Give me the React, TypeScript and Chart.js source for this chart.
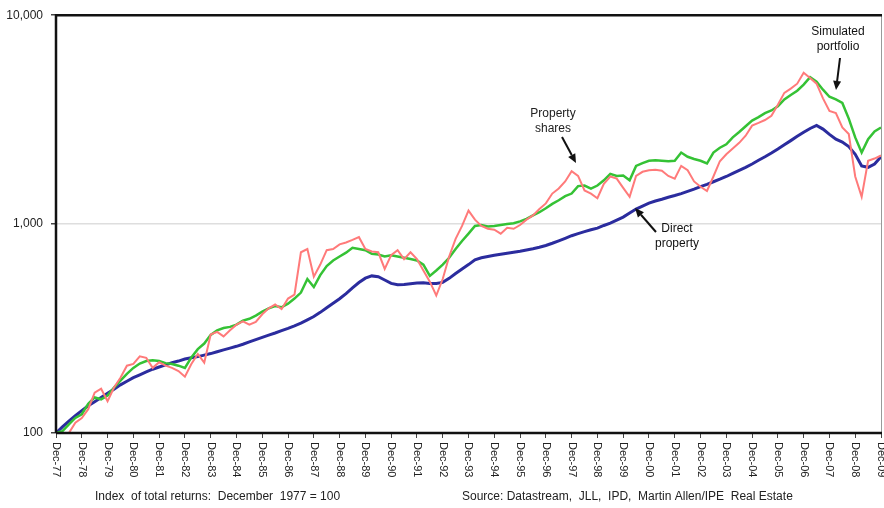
import { useEffect, useRef } from 'react';
import { Chart, registerables } from 'chart.js';

Chart.register(...registerables);

// Year tick labels (one every 4 quarters)
const yearTicks = [
  'Dec-77', 'Dec-78', 'Dec-79', 'Dec-80', 'Dec-81', 'Dec-82', 'Dec-83', 'Dec-84',
  'Dec-85', 'Dec-86', 'Dec-87', 'Dec-88', 'Dec-89', 'Dec-90', 'Dec-91', 'Dec-92',
  'Dec-93', 'Dec-94', 'Dec-95', 'Dec-96', 'Dec-97', 'Dec-98', 'Dec-99', 'Dec-00',
  'Dec-01', 'Dec-02', 'Dec-03', 'Dec-04', 'Dec-05', 'Dec-06', 'Dec-07', 'Dec-08', 'Dec-09',
];
const quarterMonths = ['Mar', 'Jun', 'Sep', 'Dec'];

// Quarterly categories Dec-77 .. Dec-09
const categories: string[] = [yearTicks[0]];
for (let i = 1; i < yearTicks.length; i++) {
  const yy = yearTicks[i].slice(4);
  quarterMonths.forEach((m) => categories.push(`${m}-${yy}`));
}

const yTicks = [100, 1000, 10000];

// Index of total returns, December 1977 = 100 (quarterly)
const directProperty = [
  100,
  107, 114, 121, 128,
  135, 141, 148, 155,
  162, 170, 177, 184,
  190, 196, 202, 207,
  212, 217, 221, 226,
  229, 232, 236, 240,
  245, 250, 255, 260,
  266, 273, 280, 287,
  294, 301, 309, 317,
  326, 336, 348, 361,
  378, 398, 418, 439,
  465, 495, 525, 551,
  565, 560, 540, 520,
  512, 514, 518, 522,
  524, 520, 520, 526,
  550, 580, 610, 640,
  675, 690, 700, 710,
  718, 726, 734, 742,
  752, 762, 775, 790,
  810, 832, 855, 880,
  900, 920, 940, 957,
  985, 1010, 1045, 1080,
  1130, 1180, 1220, 1260,
  1290, 1315, 1345, 1370,
  1400, 1435, 1470, 1510,
  1550, 1595, 1640, 1690,
  1750, 1810, 1870, 1940,
  2020, 2100, 2190, 2290,
  2400, 2510, 2630, 2750,
  2870, 2970, 2850, 2690,
  2550, 2470, 2350, 2160,
  1900, 1870, 1940, 2100,
];

const simulatedPortfolio = [
  100,
  102, 110, 118, 123,
  138, 148, 145, 151,
  165, 178, 192, 205,
  215, 221, 223, 221,
  216, 214, 210, 205,
  230, 252, 268, 295,
  310, 318, 322, 330,
  345, 352, 365, 381,
  395, 405, 400, 416,
  440, 470, 546, 500,
  570, 630, 670, 700,
  730, 770, 760, 750,
  720, 715, 700, 710,
  700, 690, 680, 670,
  640, 565, 600, 640,
  690, 760, 830, 900,
  980, 990, 975, 980,
  990, 1000, 1010, 1030,
  1060, 1100, 1140, 1190,
  1250, 1300, 1360, 1400,
  1520, 1530, 1480, 1530,
  1620, 1740, 1700, 1710,
  1620, 1900, 1960, 2010,
  2020, 2010, 2000, 2010,
  2200, 2100, 2050, 2010,
  1950, 2200, 2320, 2410,
  2600, 2760, 2940, 3130,
  3250, 3400, 3500, 3660,
  3950, 4150, 4350, 4650,
  5050, 4800, 4400, 4070,
  3950, 3800, 3200, 2600,
  2200, 2550, 2780, 2900,
];

const propertyShares = [
  100,
  92, 100, 112, 118,
  130, 156, 163, 142,
  165, 184, 210, 214,
  233, 229, 205, 218,
  210, 205, 198, 186,
  214, 239, 217, 296,
  305, 290, 310, 330,
  342, 330, 340, 370,
  395, 412, 392, 440,
  460, 733, 760, 560,
  640, 750, 760, 800,
  817, 840, 866, 760,
  740, 733, 610, 710,
  750, 680, 733, 680,
  600, 530, 455, 546,
  700, 850, 980, 1160,
  1050, 980, 950, 940,
  900, 960, 950, 990,
  1050, 1100, 1180, 1256,
  1400, 1480, 1600, 1790,
  1700, 1450, 1400, 1330,
  1560, 1690, 1650, 1490,
  1350, 1700, 1780, 1810,
  1820, 1800, 1700, 1650,
  1900, 1810, 1600, 1510,
  1440, 1690, 2000, 2160,
  2300, 2450, 2650, 2960,
  3050, 3150, 3300, 3730,
  4250, 4450, 4700, 5300,
  5000, 4700, 4000, 3480,
  3400, 2900, 2700, 1690,
  1350, 2010, 2060, 2130,
];

const FONT = '"Liberation Sans", Arial, sans-serif';

function arrow(ctx: CanvasRenderingContext2D, x1: number, y1: number, x2: number, y2: number) {
  const ang = Math.atan2(y2 - y1, x2 - x1);
  const hl = 9;
  const hw = 4;
  const bx = x2 - hl * Math.cos(ang);
  const by = y2 - hl * Math.sin(ang);
  ctx.beginPath();
  ctx.moveTo(x1, y1);
  ctx.lineTo(bx, by);
  ctx.lineWidth = 2;
  ctx.strokeStyle = '#111';
  ctx.stroke();
  ctx.beginPath();
  ctx.moveTo(x2, y2);
  ctx.lineTo(bx + hw * Math.sin(ang), by - hw * Math.cos(ang));
  ctx.lineTo(bx - hw * Math.sin(ang), by + hw * Math.cos(ang));
  ctx.closePath();
  ctx.fillStyle = '#111';
  ctx.fill();
}

const decorPlugin = {
  id: 'decor',
  afterDraw(chart: any) {
    const { ctx, chartArea } = chart;
    const { left, right, top, bottom } = chartArea;
    const xs = chart.scales.x;
    ctx.save();
    // frame
    ctx.strokeStyle = '#9a9a9a';
    ctx.lineWidth = 1;
    ctx.beginPath();
    ctx.moveTo(right + 0.5, top);
    ctx.lineTo(right + 0.5, bottom);
    ctx.stroke();
    ctx.strokeStyle = '#111';
    ctx.lineWidth = 2.5;
    ctx.beginPath();
    ctx.moveTo(left, bottom);
    ctx.lineTo(left, top);
    ctx.lineTo(right + 1, top);
    ctx.stroke();
    ctx.beginPath();
    ctx.moveTo(left, bottom);
    ctx.lineTo(right + 1, bottom);
    ctx.stroke();

    // rotated x labels (reading top to bottom)
    ctx.font = `11px ${FONT}`;
    ctx.fillStyle = '#222';
    ctx.textAlign = 'left';
    ctx.textBaseline = 'middle';
    categories.forEach((c, i) => {
      if (!yearTicks.includes(c)) return;
      const x = xs.getPixelForValue(i);
      ctx.save();
      ctx.translate(x, bottom + 9);
      ctx.rotate(Math.PI / 2);
      ctx.fillText(c, 0, 0);
      ctx.restore();
    });

    // footer
    ctx.font = `12px ${FONT}`;
    ctx.fillStyle = '#222';
    ctx.fillText('Index  of total returns:  December  1977 = 100', 95, 497);
    ctx.fillText('Source: Datastream,  JLL,  IPD,  Martin Allen/IPE  Real Estate', 462, 497);

    // annotations
    ctx.textAlign = 'center';
    ctx.fillText('Property', 553, 114);
    ctx.fillText('shares', 553, 129);
    arrow(ctx, 562, 137, 576, 163);

    ctx.fillText('Simulated', 838, 32);
    ctx.fillText('portfolio', 838, 47);
    arrow(ctx, 840, 58, 836, 90);

    ctx.fillText('Direct', 677, 229);
    ctx.fillText('property', 677, 244);
    arrow(ctx, 656, 232, 635, 208);
    ctx.restore();
  },
};

export default function App() {
  const ref = useRef<HTMLCanvasElement>(null);
  useEffect(() => {
    if (!ref.current) return;
    const chart = new Chart(ref.current, {
      type: 'line',
      data: {
        labels: categories,
        datasets: [
          {
            label: 'Property shares',
            data: propertyShares,
            borderColor: '#ff7a7a',
            borderWidth: 2,
            pointRadius: 0,
            tension: 0,
          },
          {
            label: 'Simulated portfolio',
            data: simulatedPortfolio,
            borderColor: '#35c235',
            borderWidth: 2.5,
            pointRadius: 0,
            tension: 0,
          },
          {
            label: 'Direct property',
            data: directProperty,
            borderColor: '#2b2c9e',
            borderWidth: 3,
            pointRadius: 0,
            tension: 0,
          },
        ],
      },
      options: {
        responsive: false,
        animation: false,
        layout: { padding: { left: 0, top: 10, right: 3, bottom: 0 } },
        plugins: {
          legend: { display: false },
          tooltip: { enabled: false },
        },
        scales: {
          x: {
            type: 'category',
            offset: false,
            border: { display: false },
            grid: {
              display: true,
              drawOnChartArea: false,
              drawTicks: true,
              tickLength: 5,
              tickColor: (c: any) => (c.index % 4 === 0 ? '#444' : 'rgba(0,0,0,0)'),
            },
            ticks: { display: false, autoSkip: false },
            afterFit: (s: any) => {
              s.height = 75;
            },
          },
          y: {
            type: 'logarithmic',
            min: 100,
            max: 10000,
            border: { display: false },
            grid: {
              color: (c: any) => (c.tick && c.tick.value === 1000 ? '#dedede' : 'rgba(0,0,0,0)'),
              lineWidth: 1.5,
              drawTicks: true,
              tickLength: 5,
              tickColor: '#444',
            },
            afterBuildTicks: (s: any) => {
              s.ticks = yTicks.map((v) => ({ value: v }));
            },
            ticks: {
              padding: 8,
              color: '#222',
              font: { family: FONT, size: 12 },
              callback: (v: any) => Number(v).toLocaleString('en-US'),
            },
            afterFit: (s: any) => {
              s.width = 56;
            },
          },
        },
      },
      plugins: [decorPlugin],
    });
    return () => chart.destroy();
  }, []);
  return (
    <div style={{ position: 'absolute', left: 0, top: 0, width: 884, height: 508, background: '#fff' }}>
      <canvas ref={ref} width={884} height={508} />
    </div>
  );
}
